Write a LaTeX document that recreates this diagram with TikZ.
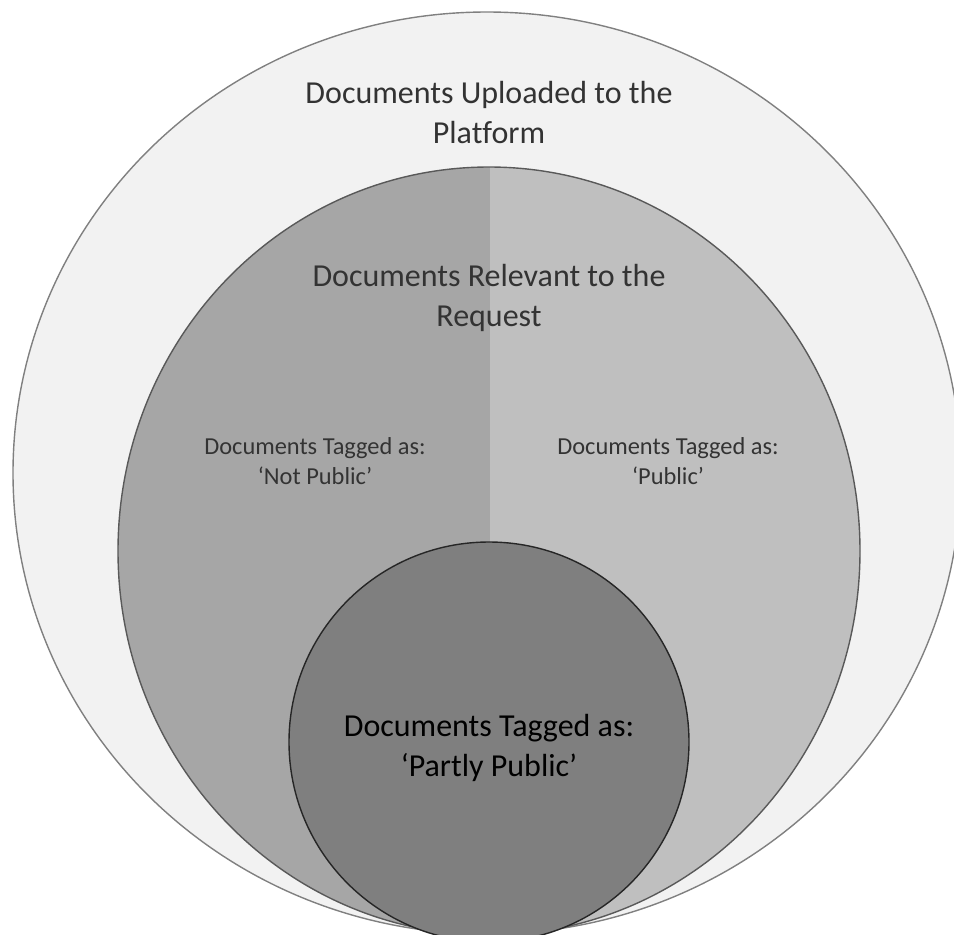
\documentclass[tikz,border=0pt]{standalone}
\usepackage{fontspec}
\setmainfont{Carlito}[Ligatures = NoCommon]
\definecolor{uploadfill}{HTML}{F2F2F2}
\definecolor{notpublicfill}{HTML}{A6A6A6}
\definecolor{publicfill}{HTML}{BFBFBF}
\definecolor{partlyfill}{HTML}{7F7F7F}
\begin{document}
\begin{tikzpicture}[x = 1pt, y = -1pt,
    bigtext/.style = {align = center, anchor = base, text = black!80, font = \fontsize{32}{40}\selectfont},
    smalltext/.style = {align = center, anchor = base, text = black!80, font = \fontsize{24.4}{30}\selectfont}]
      \useasboundingbox (0,0) rectangle (954,935);
      \clip (0,0) rectangle (954,935);
      % the three sets
      \draw [fill = uploadfill, draw = black!50, line width = 1.4pt] (487,473) ellipse [x radius = 474pt, y radius = 461pt];
      \begin{scope}
        \clip (489,551) ellipse [x radius = 371pt, y radius = 384pt];
        \fill [notpublicfill] (100,150) rectangle (490,940);
        \fill [publicfill] (490,150) rectangle (880,940);
      \end{scope}
      \draw [draw = black!65, line width = 1.4pt] (489,551) ellipse [x radius = 371pt, y radius = 384pt];
      \draw [fill = partlyfill, draw = black!85, line width = 1.4pt] (489,742) ellipse [x radius = 200pt, y radius = 200pt];
      % labels (anchored on the baseline of the last line)
      \node [bigtext] (uploaded) at (489,143) {Documents Uploaded to the\\Platform};
      \node [bigtext] (relevant) at (489,326) {Documents Relevant to the\\Request};
      \node [smalltext] (notpublic) at (315,484) {Documents Tagged as:\\‘Not Public’};
      \node [smalltext] (public) at (668,484) {Documents Tagged as:\\‘Public’};
      \node [bigtext, text = black] (partly) at (489,776) {Documents Tagged as:\\‘Partly Public’};
\end{tikzpicture}
\end{document}
